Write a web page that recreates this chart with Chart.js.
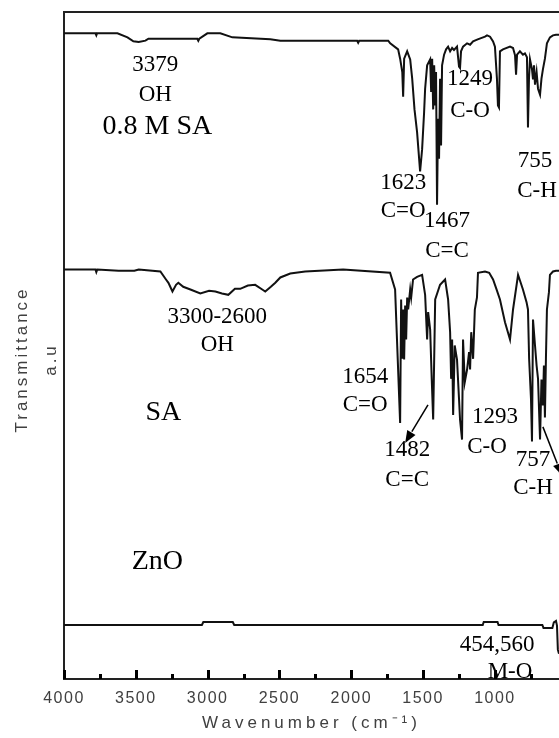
<!DOCTYPE html>
<html lang="en">
<head>
<meta charset="UTF-8">
<title>FTIR spectra</title>
<style>
    body {
        margin: 0;
        background: #ffffff;
    }
    .chart-box {
        position: relative;
        width: 559px;
        height: 738px;
    }
</style>
</head>
<body>
<div class="chart-box"><canvas id="ftir"></canvas></div>
<script src="https://cdn.jsdelivr.net/npm/chart.js"></script>
<script>
// wavenumber (cm-1) and transmittance (a.u.)
// 0.8 M SA
const wnSaMolar = [4000, 3781, 3775, 3770, 3628, 3558, 3517, 3480, 3433, 3412,
    3300, 3072, 3065, 3058, 3002, 2912, 2828, 2564, 2494, 1959,
    1952, 1945, 1743, 1729, 1674, 1660, 1645, 1639, 1632, 1611,
    1590, 1576, 1560, 1542, 1521, 1507, 1493, 1486, 1472, 1451,
    1444, 1437, 1430, 1423, 1416, 1410, 1403, 1396, 1389, 1382,
    1375, 1368, 1354, 1340, 1326, 1312, 1298, 1285, 1264, 1250,
    1243, 1236, 1222, 1194, 1173, 1152, 1120, 1069, 1055, 1034,
    1013, 1000, 986, 979, 972, 965, 944, 895, 874, 860,
    853, 846, 826, 805, 791, 777, 770, 763, 756, 742,
    735, 728, 721, 710, 700, 686, 676, 666, 652, 638,
    617, 596, 575, 554];
const tSaMolar = [96.8, 96.8, 96.5, 96.8, 96.8, 96.2, 95.6, 95.5, 95.7, 96.0,
    96.0, 96.0, 95.7, 96.0, 96.8, 96.8, 96.2, 95.9, 95.7, 95.7,
    95.4, 95.7, 95.7, 95.3, 94.4, 93.0, 91.0, 87.3, 93.0, 94.1,
    92.9, 90.0, 85.4, 82.0, 76.1, 79.4, 85.0, 88.5, 92.0, 92.9,
    88.0, 93.0, 85.4, 92.0, 86.0, 91.0, 71.1, 84.0, 78.0, 90.0,
    80.0, 92.0, 93.6, 94.4, 94.8, 94.1, 94.6, 94.3, 94.8, 91.8,
    91.6, 94.1, 94.8, 95.3, 95.1, 95.6, 95.9, 96.3, 96.5, 96.3,
    95.6, 94.8, 90.0, 86.0, 85.7, 94.1, 94.4, 94.8, 94.6, 93.5,
    90.6, 93.6, 94.1, 93.6, 93.8, 93.2, 82.7, 90.0, 92.9, 91.4,
    89.9, 92.0, 89.1, 91.0, 88.5, 87.6, 90.0, 91.4, 93.0, 95.3,
    96.2, 96.5, 96.6, 96.6];

// SA
const wnSa = [4000, 3781, 3775, 3768, 3620, 3510, 3480, 3329, 3290, 3273,
    3245, 3220, 3204, 3170, 3120, 3051, 2990, 2946, 2900, 2856,
    2810, 2773, 2720, 2669, 2620, 2599, 2560, 2529, 2494, 2425,
    2321, 2057, 1730, 1695, 1660, 1653, 1646, 1639, 1632, 1625,
    1618, 1611, 1604, 1590, 1583, 1570, 1542, 1507, 1486, 1472,
    1465, 1451, 1440, 1430, 1416, 1382, 1347, 1326, 1312, 1305,
    1298, 1291, 1280, 1264, 1250, 1243, 1229, 1222, 1210, 1194,
    1180, 1173, 1165, 1152, 1140, 1125, 1118, 1069, 1040, 1013,
    990, 965, 930, 895, 874, 839, 805, 780, 770, 762,
    749, 742, 735, 721, 710, 700, 686, 676, 666, 659,
    652, 645, 638, 624, 617, 596, 575, 554];
const tSa = [61.4, 61.4, 61.0, 61.4, 61.2, 61.2, 61.4, 61.1, 59.9, 59.4,
    58.1, 59.1, 59.4, 58.8, 58.4, 57.8, 58.2, 58.1, 57.8, 57.6,
    58.5, 58.5, 59.0, 59.1, 58.4, 58.1, 58.8, 59.4, 60.2, 60.8,
    61.1, 61.4, 60.9, 58.4, 38.4, 56.9, 48.0, 55.4, 47.9, 56.0,
    50.9, 57.2, 55.4, 58.4, 57.2, 59.9, 60.3, 60.6, 57.6, 50.9,
    55.0, 52.4, 45.0, 38.9, 56.9, 59.1, 59.9, 56.9, 52.0, 45.0,
    50.9, 39.6, 50.0, 47.9, 42.0, 38.9, 35.9, 50.9, 44.5, 46.4,
    49.0, 46.4, 52.0, 48.0, 55.4, 57.2, 60.9, 61.1, 60.9, 59.9,
    58.5, 56.9, 53.5, 50.9, 55.4, 60.6, 58.4, 56.5, 55.4, 48.0,
    42.0, 35.6, 53.9, 50.0, 47.0, 45.0, 35.9, 44.9, 41.0, 47.0,
    39.2, 48.0, 55.4, 58.0, 60.6, 61.1, 61.2, 61.2];

// ZnO
const wnZno = [4000, 3040, 3030, 2825, 2815, 1085, 1078, 982, 975, 670,
    662, 600, 590, 575, 568, 562, 554];
const tZno = [8.1, 8.1, 8.55, 8.55, 8.1, 8.1, 8.55, 8.55, 8.1, 8.1,
    7.65, 7.65, 8.5, 8.7, 8.0, 4.4, 3.8];

// axis ticks
const xTicks = [4000, 3500, 3000, 2500, 2000, 1500, 1000];
const xMinorTicks = [3750, 3250, 2750, 2250, 1750, 1250, 750];

// labels on the plot: [text, wavenumber, transmittance]
const sampleNames = [
    ['0.8 M SA', 3350, 82.8],
    ['SA', 3308, 39.9],
    ['ZnO', 3350, 17.6]
];
const peakNotes = [
    ['3379', 3364, 92.1], ['OH', 3364, 87.6],
    ['1249', 1173, 89.9], ['C-O', 1173, 85.2],
    ['1623', 1639, 74.4], ['C=O', 1639, 70.1],
    ['1467', 1333, 68.6], ['C=C', 1333, 64.1],
    ['755', 721, 77.6], ['C-H', 707, 73.1],
    ['3300-2600', 2933, 54.3], ['OH', 2933, 50.1],
    ['1654', 1903, 45.3], ['C=O', 1903, 41.1],
    ['1482', 1611, 34.4], ['C=C', 1611, 29.9],
    ['1293', 999, 39.3], ['C-O', 1055, 34.8],
    ['757', 735, 32.9], ['C-H', 735, 28.7],
    ['454,560', 985, 5.1], ['M-O', 895, 1.1]
];
// arrows: [from wn, from t, to wn, to t]
const arrows = [
    [1466, 41.1, 1625, 35.4],
    [666, 37.8, 533, 30.5]
];

function toPoints(wn, t) {
    return wn.map((w, i) => ({ x: w, y: t[i] }));
}

function trace(label, wn, t) {
    return {
        label: label,
        data: toPoints(wn, t),
        borderColor: '#111111',
        borderWidth: 2,
        pointRadius: 0,
        tension: 0
    };
}

const axisColor = '#222222';
const textGrey = '#404040';

// frame, inward ticks, arrows and text labels
const decorations = {
    id: 'decorations',
    beforeDraw(chart) {
        const ctx = chart.ctx;
        ctx.letterSpacing = '1.5px';
        Object.values(chart.scales).forEach(s => {
            if (s._wrappedTitle) return;
            const orig = s.drawTitle.bind(s);
            const shift = s.axis === 'y' ? 14 : 0;
            const spacing = s.axis === 'y' ? '3px' : '4px';
            s.drawTitle = function () {
                ctx.save();
                ctx.letterSpacing = spacing;
                ctx.translate(0, shift);
                orig();
                ctx.restore();
            };
            s._wrappedTitle = true;
        });
    },
    afterDraw(chart) {
        const { ctx, chartArea: a, scales: { x, y } } = chart;
        ctx.save();
        ctx.letterSpacing = '0px';
        ctx.fillStyle = axisColor;
        // top frame line
        ctx.fillRect(a.left - 1, a.top - 1, a.right - a.left + 1, 2);

        // tick marks point into the plot
        const base = Math.round(y.getPixelForValue(0));
        ctx.fillStyle = '#000000';
        for (const v of xTicks) {
            const px = Math.round(x.getPixelForValue(v));
            ctx.fillRect(px - 1, base - 9, 3, 9);
        }
        for (const v of xMinorTicks) {
            const px = Math.round(x.getPixelForValue(v));
            ctx.fillRect(px - 1, base - 5, 3, 5);
        }

        // arrows
        ctx.strokeStyle = '#000000';
        ctx.fillStyle = '#000000';
        ctx.lineWidth = 1.5;
        arrows.forEach(([w1, t1, w2, t2]) => {
            const x1 = x.getPixelForValue(w1), y1 = y.getPixelForValue(t1);
            const x2 = x.getPixelForValue(w2), y2 = y.getPixelForValue(t2);
            const ang = Math.atan2(y2 - y1, x2 - x1);
            const head = 13;
            ctx.beginPath();
            ctx.moveTo(x1, y1);
            ctx.lineTo(x2 - head * Math.cos(ang), y2 - head * Math.sin(ang));
            ctx.stroke();
            ctx.beginPath();
            ctx.moveTo(x2, y2);
            ctx.lineTo(x2 - head * Math.cos(ang - 0.38), y2 - head * Math.sin(ang - 0.38));
            ctx.lineTo(x2 - head * Math.cos(ang + 0.38), y2 - head * Math.sin(ang + 0.38));
            ctx.closePath();
            ctx.fill();
        });

        // text
        ctx.textAlign = 'center';
        ctx.textBaseline = 'middle';
        ctx.font = '23px "Liberation Serif", "Times New Roman", serif';
        peakNotes.forEach(([txt, w, t]) => {
            ctx.fillText(txt, x.getPixelForValue(w), y.getPixelForValue(t));
        });
        ctx.font = '28px "Liberation Serif", "Times New Roman", serif';
        sampleNames.forEach(([txt, w, t]) => {
            ctx.fillText(txt, x.getPixelForValue(w), y.getPixelForValue(t));
        });
        ctx.restore();
    }
};

const ctx = document.getElementById('ftir').getContext('2d');
const ftirChart = new Chart(ctx, {
    type: 'line',
    data: {
        datasets: [
            trace('0.8 M SA', wnSaMolar, tSaMolar),
            trace('SA', wnSa, tSa),
            trace('ZnO', wnZno, tZno)
        ]
    },
    options: {
        responsive: true,
        maintainAspectRatio: false,
        animation: false,
        layout: {
            padding: { top: 12, right: 0, bottom: 2, left: 0 }
        },
        plugins: {
            legend: { display: false },
            tooltip: { enabled: false }
        },
        scales: {
            x: {
                type: 'linear',
                reverse: true,
                min: 554,
                max: 4000,
                afterBuildTicks: scale => {
                    scale.ticks = xTicks.map(v => ({ value: v }));
                },
                grid: { display: false, drawTicks: false },
                border: { display: true, color: axisColor, width: 2 },
                ticks: {
                    autoSkip: false,
                    maxRotation: 0,
                    padding: 12,
                    color: textGrey,
                    callback: value => String(value),
                    font: { family: '"Liberation Sans", Arial, sans-serif', size: 16, lineHeight: 1.0 }
                },
                title: {
                    display: true,
                    text: 'Wavenumber (cm⁻¹)',
                    color: textGrey,
                    padding: { top: -4, bottom: 4 },
                    font: { family: '"Liberation Sans", Arial, sans-serif', size: 17, lineHeight: 1.0 }
                }
            },
            y: {
                type: 'linear',
                min: 0,
                max: 100,
                grid: { display: false, drawTicks: false },
                border: { display: true, color: axisColor, width: 2 },
                ticks: { display: false },
                title: {
                    display: true,
                    text: ['Transmittance', 'a.u'],
                    color: textGrey,
                    padding: { top: 8, bottom: -2 },
                    font: { family: '"Liberation Sans", Arial, sans-serif', size: 17, lineHeight: '29px' }
                }
            }
        }
    },
    plugins: [decorations]
});
</script>
</body>
</html>
